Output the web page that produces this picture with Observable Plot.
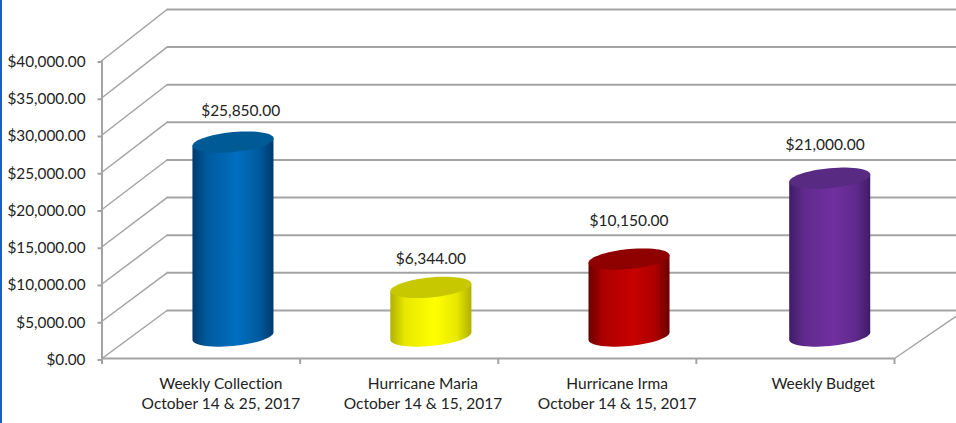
<!DOCTYPE html>
<html>
<head>
<meta charset="utf-8">
<script src="https://cdn.jsdelivr.net/npm/d3@7"></script>
<script src="https://cdn.jsdelivr.net/npm/@observablehq/plot@0.6"></script>
<style>
html,body{margin:0;padding:0;background:#fff;overflow:hidden}
body::before{content:"";position:fixed;left:0;top:0;bottom:0;width:2px;background:#1f5fbf;z-index:2}
svg{display:block;font-variant-ligatures:none}
</style>
</head>
<body>
<div id="chart"></div>
<script>
const categories = ["Weekly Collection\nOctober 14 & 25, 2017","Hurricane Maria\nOctober 14 & 15, 2017","Hurricane Irma\nOctober 14 & 15, 2017","Weekly Budget"];
const values = [25850, 6344, 10150, 21000];
const valueLabels = ["$25,850.00","$6,344.00","$10,150.00","$21,000.00"];
const yTicks = [0,5000,10000,15000,20000,25000,30000,35000,40000];
const xTicks = [0,1,2,3,4];

// Chart-space placement of the pseudo-3D drawing, in scale units
const depthX = 0.328, depthY = 6443, depthGrow = 0.0101, rightDepthX = 0.353;
const barX = [0.661, 1.66, 2.66, 3.673];
const barHalf = 0.2045, tilt = 500, capDepth = 1340;
const floorTop = 3200, floorBottom = 3020;
const labelX = [0.70, 1.66, 2.66, 3.65];
const labelLift = [4190, 3790, 5040, 4490];
const catX = [0.60, 1.62, 2.60, 3.64];

const gradients = [
  ["#003a6e","#005a9e","#0070c0","#005a9e","#003a6e"],
  ["#b0b000","#e8e800","#ffff00","#e8e800","#b0b000"],
  ["#6a0000","#ad0000","#c80000","#ad0000","#6a0000"],
  ["#3f1c66","#602a8c","#7030a0","#602a8c","#3f1c66"]
];
const caps = ["#005a96","#c8c800","#8f0000","#582a82"];

const backY = v => v + depthY + v * depthGrow;
const ellipse = (cx, cv, t) => ({x: cx + barHalf * Math.cos(t), y: cv + tilt * Math.cos(t) - capDepth * Math.sin(t)});
const angles = d3.range(0, 361, 6).map(a => a * Math.PI / 180);

function capShape(i) {
  return angles.map(t => ellipse(barX[i], values[i] + floorTop, t));
}
function bodyShape(i) {
  const top = values[i] + floorTop, low = floorBottom;
  const pts = [ellipse(barX[i], top, 0), ellipse(barX[i], top, Math.PI)];
  // lower half of the base ellipse, left tip round to right tip
  const lower = angles.filter(t => t <= Math.PI + 1e-9).reverse().map(t => ellipse(barX[i], low, t));
  return [...pts, ...lower];
}

const defs = () => {
  const s = d3.create("svg:defs");
  gradients.forEach((g, i) => {
    const lg = s.append("linearGradient").attr("id", "cyl" + i).attr("x1", 0).attr("x2", 1).attr("y1", 0).attr("y2", 0);
    [0, .18, .55, .82, 1].forEach((o, k) => lg.append("stop").attr("offset", o).attr("stop-color", g[k]));
  });
  return s.node();
};

const gray = "#a3a3a3", font = "Lato, Carlito, sans-serif", ink = "#222";

const chart = Plot.plot({
  width: 956, height: 423,
  marginLeft: 101.5, marginRight: 62, marginTop: 60, marginBottom: 65,
  style: {fontFamily: font, background: "#fff", overflow: "hidden"},
  x: {domain: [0, 4]},
  y: {domain: [0, 40000]},
  marks: [
    defs,
    Plot.link(yTicks, {x1: 0, y1: d => d, x2: depthX, y2: backY, stroke: gray, strokeWidth: 1.5}),
    Plot.ruleY(yTicks, {x1: depthX, x2: 5, y: backY, stroke: gray, strokeWidth: 2}),
    Plot.link([0], {x1: 4, y1: 0, x2: 4 + rightDepthX, y2: depthY, stroke: gray, strokeWidth: 1.5}),
    Plot.ruleX([0], {y1: 0, y2: 40000, stroke: gray, strokeWidth: 2}),
    Plot.ruleY([0], {x1: 0, x2: 4, stroke: gray, strokeWidth: 2}),
    Plot.axisY({ticks: yTicks, tickSize: 4, tickPadding: 12.5, dy: 1.5, stroke: gray, strokeWidth: 2, label: null, fontSize: 15.3, fill: ink, color: ink, tickFormat: d => d3.format("$,.2f")(d)}),
    Plot.axisX({ticks: xTicks, tickSize: 6, stroke: gray, strokeWidth: 2, label: null, tickFormat: () => ""}),
    ...values.flatMap((v, i) => [
      Plot.line(bodyShape(i), {x: "x", y: "y", fill: `url(#cyl${i})`, stroke: "none", curve: "linear"}),
      Plot.line(capShape(i), {x: "x", y: "y", fill: caps[i], stroke: "none", curve: "linear"}),
      Plot.text([valueLabels[i]], {x: labelX[i], y: v + floorTop + labelLift[i], text: d => d, fontSize: 15.5, fill: ink})
    ]),
    Plot.text(categories, {x: (d, i) => catX[i], y: 0, dy: 17, lineAnchor: "top", lineHeight: 1.25, text: d => d, fontSize: 15.5, fill: ink})
  ]
});
document.getElementById("chart").append(chart);
</script>
</body>
</html>
